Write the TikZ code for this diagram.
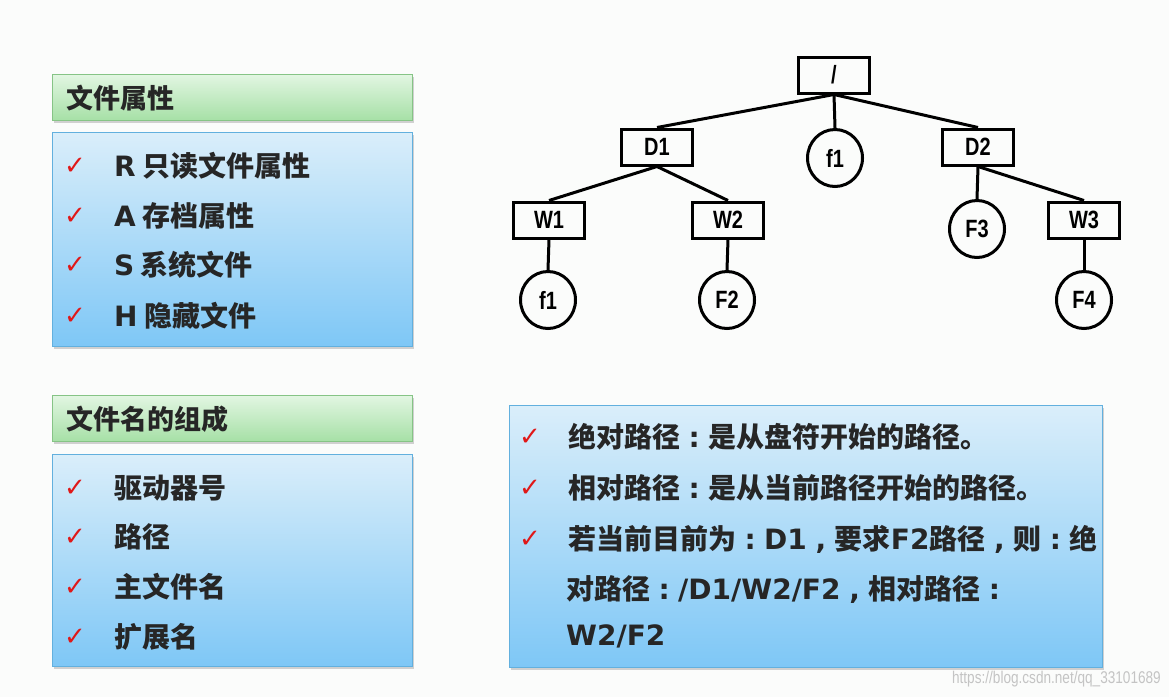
\documentclass[tikz,border=0pt]{standalone}
\usepackage{fontspec}
\setmainfont{Noto Sans CJK SC}
\newfontfamily\latf{DejaVu Sans}
\newfontfamily\treef{Liberation Sans}[FakeStretch=0.8]
\newfontfamily\symf{DejaVu Sans}
\newfontfamily\wmf{Liberation Sans}[FakeStretch=0.8]
\usetikzlibrary{shapes.geometric,shadows}
\definecolor{bgc}{HTML}{FBFCFB}
\definecolor{gtop}{HTML}{E2F6E2}
\definecolor{gbot}{HTML}{A6E0A6}
\definecolor{gborder}{HTML}{86C486}
\definecolor{btop}{HTML}{DAEEFA}
\definecolor{bbot}{HTML}{7EC7F6}
\definecolor{bborder}{HTML}{62B0DE}
\definecolor{txt}{HTML}{262626}
\definecolor{tickred}{HTML}{E01818}
\definecolor{wm}{HTML}{C4C4C4}
\newcommand{\lt}[1]{{\latf\bfseries #1}}
\newcommand{\fcolon}{\makebox[1em][c]{\latf\bfseries :}}
\newcommand{\fcomma}{\makebox[1em][c]{\latf\bfseries ,}}
\begin{document}
\begin{tikzpicture}[x=1pt,y=-1pt,
  greenbox/.style={draw=gborder, line width=0.8pt, top color=gtop, bottom color=gbot,
    drop shadow={shadow xshift=1.5pt, shadow yshift=-2.5pt, opacity=0.35},
    anchor=north west, inner sep=0pt, minimum width=360pt},
  bluebox/.style={draw=bborder, line width=0.8pt, top color=btop, bottom color=bbot,
    drop shadow={shadow xshift=1.5pt, shadow yshift=-2.5pt, opacity=0.35},
    anchor=north west, inner sep=0pt},
  headtxt/.style={anchor=west, inner sep=0pt, text=txt, font=\fontsize{27}{30}\selectfont\bfseries},
  item/.style={anchor=west, inner sep=0pt, text=txt, font=\fontsize{28}{32}\selectfont\bfseries},
  tick/.style={anchor=west, inner sep=0pt, text=tickred, font=\symf\fontsize{26}{28}\selectfont},
  dirbox/.style={draw, line width=3pt, minimum width=71pt, minimum height=36pt, inner sep=0pt,
    font=\treef\bfseries\fontsize{25}{28}\selectfont},
  filenode/.style={draw, ellipse, line width=3pt, minimum width=55pt, minimum height=57pt, inner sep=0pt,
    font=\treef\bfseries\fontsize{25}{28}\selectfont},
  link/.style={line width=3pt}
]
\useasboundingbox[fill=bgc] (0,0) rectangle (1169,697);

% left top panel
\node[greenbox, minimum height=46pt] (h1) at (52,74) {};
\node[headtxt] (h1t) at (66,98) {文件属性};
\node[bluebox, minimum width=360pt, minimum height=214pt] (b1) at (52,132) {};
\foreach \yy/\tx [count=\i] in {166/{\lt{R} 只读文件属性}, 216/{\lt{A} 存档属性}, 265/{\lt{S} 系统文件}, 316/{\lt{H} 隐藏文件}}{
  \node[tick] (t1\i) at (64,\yy) {✓};
  \node[item] (i1\i) at (114,\yy) {\tx};
}

% left bottom panel
\node[greenbox, minimum height=46pt] (h2) at (52,395) {};
\node[headtxt] (h2t) at (66,419) {文件名的组成};
\node[bluebox, minimum width=360pt, minimum height=212pt] (b2) at (52,454) {};
\foreach \yy/\tx [count=\i] in {488/驱动器号, 537/路径, 587/主文件名, 637/扩展名}{
  \node[tick] (t2\i) at (64,\yy) {✓};
  \node[item] (i2\i) at (114,\yy) {\tx};
}

% right bottom panel
\node[bluebox, minimum width=593pt, minimum height=262pt] (b3) at (509,405) {};
\node[tick] (t31) at (519,437) {✓};
\node[item] (i31) at (568,437) {绝对路径\fcolon 是从盘符开始的路径。};
\node[tick] (t32) at (519,488) {✓};
\node[item] (i32) at (568,488) {相对路径\fcolon 是从当前路径开始的路径。};
\node[tick] (t33) at (519,539) {✓};
\node[item] (i33) at (568,539) {若当前目前为\fcolon\lt{D1}\fcomma 要求\lt{F2}路径\fcomma 则\fcolon 绝};
\node[item] (i34) at (566,589) {对路径\fcolon\lt{/D1/W2/F2}\fcomma 相对路径\fcolon};
\node[item] (i35) at (566,636) {\lt{W2/F2}};

% tree
\node[dirbox] (root) at (834,75) {/};
\node[dirbox] (D1) at (657,147) {D1};
\node[filenode] (fm) at (835,158) {f1};
\node[dirbox] (D2) at (978,147) {D2};
\node[dirbox] (W1) at (549,220) {W1};
\node[dirbox] (W2) at (728,220) {W2};
\node[filenode] (F3) at (977,229) {F3};
\node[dirbox] (W3) at (1084,220) {W3};
\node[filenode] (f1) at (548,300) {f1};
\node[filenode] (F2) at (727,300) {F2};
\node[filenode] (F4) at (1084,300) {F4};

\draw[link] (root.south) -- (D1.north);
\draw[link] (root.south) -- (fm.north);
\draw[link] (root.south) -- (D2.north);
\draw[link] (D1.south) -- (W1.north);
\draw[link] (D1.south) -- (W2.north);
\draw[link] (D2.south) -- (F3.north);
\draw[link] (D2.south) -- (W3.north);
\draw[link] (W1.south) -- (f1.north);
\draw[link] (W2.south) -- (F2.north);
\draw[link] (W3.south) -- (F4.north);

\node[anchor=east, inner sep=0pt, text=wm, font=\wmf\fontsize{17}{20}\selectfont] (wmk) at (1161,679) {https://blog.csdn.net/qq\_33101689};
\end{tikzpicture}
\end{document}
